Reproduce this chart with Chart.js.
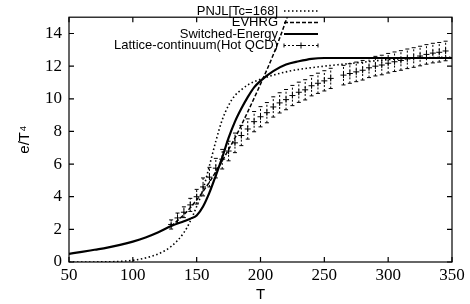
<!DOCTYPE html>
<html>
<head>
<meta charset="utf-8">
<script src="https://cdn.jsdelivr.net/npm/chart.js@4"></script>
<style>
  html, body { margin: 0; padding: 0; background: #fff; }
</style>
</head>
<body>
<canvas id="chart" width="470" height="304"></canvas>
<script>
// PNJL [Tc=168] (dotted)
const pnjlT = [50, 80, 90, 100, 110, 120, 130, 140, 145, 150, 155, 160, 165, 170, 175, 180, 185, 190, 200, 210, 220, 230, 250, 275, 300, 325, 350];
const pnjlE = [0, 0.01, 0.04, 0.1, 0.25, 0.5, 0.95, 1.8, 2.5, 3.4, 4.45, 5.9, 7.4, 8.7, 9.6, 10.2, 10.55, 10.85, 11.2, 11.45, 11.65, 11.8, 12.0, 12.2, 12.4, 12.5, 12.55];

// EVHRG (dashed)
const hrgT = [130, 140, 150, 160, 170, 180, 190, 200, 210, 220, 226];
const hrgE = [2.2, 2.9, 3.8, 4.9, 6.2, 7.6, 9.2, 10.9, 12.7, 14.8, 16.2];

// Switched-Energy (solid)
const swT = [50, 60, 70, 80, 90, 100, 110, 120, 130, 140, 145, 150, 155, 160, 165, 170, 175, 180, 185, 190, 195, 200, 210, 220, 230, 240, 250, 275, 300, 350];
const swE = [0.5, 0.62, 0.75, 0.88, 1.05, 1.25, 1.5, 1.82, 2.2, 2.5, 2.65, 2.85, 3.4, 4.25, 5.3, 6.4, 7.6, 8.6, 9.4, 10.1, 10.7, 11.1, 11.7, 12.1, 12.3, 12.45, 12.5, 12.5, 12.5, 12.5];

// Lattice-continuum (Hot QCD) points with errors
const latT = [130, 135, 140, 145, 150, 155, 160, 165, 170, 175, 180, 185, 190, 195, 200, 205, 210, 215, 220, 225, 230, 235, 240, 245, 250, 255,
              265, 270, 275, 280, 285, 290, 295, 300, 305, 310, 315, 320, 325, 330, 335, 340, 345];
const latE = [2.3, 2.7, 3.05, 3.5, 4.0, 4.6, 5.2, 5.75, 6.3, 6.8, 7.3, 7.75, 8.15, 8.6, 8.9, 9.15, 9.5, 9.75, 9.95, 10.2, 10.4, 10.55, 10.8, 10.95, 11.1, 11.25,
              11.45, 11.55, 11.65, 11.75, 11.9, 12.0, 12.07, 12.18, 12.27, 12.35, 12.45, 12.53, 12.62, 12.72, 12.8, 12.85, 12.93];
const latErr = [0.28, 0.3, 0.33, 0.4, 0.45, 0.55, 0.6, 0.6, 0.6, 0.6, 0.6, 0.62, 0.62, 0.62, 0.62, 0.62, 0.62, 0.62, 0.62, 0.62, 0.62, 0.62, 0.62, 0.62, 0.62, 0.62,
                0.6, 0.6, 0.6, 0.6, 0.6, 0.6, 0.6, 0.6, 0.6, 0.6, 0.6, 0.6, 0.6, 0.6, 0.6, 0.6, 0.6];

const xTicks = [50, 100, 150, 200, 250, 300, 350];
const yTicks = [0, 2, 4, 6, 8, 10, 12, 14];

const toXY = (xs, ys) => xs.map((x, i) => ({x: x, y: ys[i]}));

// gnuplot style box with inward ticks on all four sides
const frameTicks = {
  id: 'frameTicks',
  afterDatasetsDraw(chart) {
    const {ctx, chartArea: a, scales: {x, y}} = chart;
    ctx.save();
    ctx.strokeStyle = '#000';
    ctx.lineWidth = 1.2;
    ctx.setLineDash([]);
    ctx.strokeRect(a.left, a.top, a.right - a.left, a.bottom - a.top);
    const len = 5;
    ctx.beginPath();
    xTicks.forEach(v => {
      const px = x.getPixelForValue(v);
      ctx.moveTo(px, a.bottom); ctx.lineTo(px, a.bottom - len);
      ctx.moveTo(px, a.top); ctx.lineTo(px, a.top + len);
    });
    yTicks.forEach(v => {
      const py = y.getPixelForValue(v);
      ctx.moveTo(a.left, py); ctx.lineTo(a.left + len, py);
      ctx.moveTo(a.right, py); ctx.lineTo(a.right - len, py);
    });
    ctx.stroke();
    ctx.restore();
  }
};

// dashed vertical error bars with small caps
const errorBars = {
  id: 'errorBars',
  beforeDatasetsDraw(chart) {
    const {ctx, chartArea: a, scales: {x, y}} = chart;
    ctx.save();
    ctx.beginPath();
    ctx.rect(a.left, a.top, a.right - a.left, a.bottom - a.top);
    ctx.clip();
    ctx.strokeStyle = '#000';
    ctx.lineWidth = 1;
    latT.forEach((t, i) => {
      const px = x.getPixelForValue(t);
      const hi = y.getPixelForValue(latE[i] + latErr[i]);
      const lo = y.getPixelForValue(latE[i] - latErr[i]);
      ctx.setLineDash([2, 2]);
      ctx.beginPath();
      ctx.moveTo(px, lo); ctx.lineTo(px, hi);
      ctx.stroke();
      ctx.setLineDash([]);
      ctx.beginPath();
      ctx.moveTo(px - 2, lo); ctx.lineTo(px + 2, lo);
      ctx.moveTo(px - 2, hi); ctx.lineTo(px + 2, hi);
      ctx.stroke();
    });
    ctx.restore();
  }
};

// key in the top of the plot, text right aligned, sample on the right
const keyBox = {
  id: 'keyBox',
  afterDraw(chart) {
    const {ctx} = chart;
    const textRight = 278, x0 = 284, x1 = 318;
    const rows = [11, 22.5, 34, 45.5];
    ctx.save();
    ctx.font = '13px "Liberation Sans", Arial, sans-serif';
    ctx.textAlign = 'right';
    ctx.textBaseline = 'middle';
    ctx.fillStyle = '#000';
    chart.data.datasets.forEach((ds, i) => {
      const yy = rows[i];
      ctx.fillText(ds.label, textRight, yy);
      ctx.strokeStyle = '#000';
      if (ds.showLine === false) {
        ctx.lineWidth = 1;
        ctx.setLineDash([2, 2]);
        ctx.beginPath();
        ctx.moveTo(x0, yy); ctx.lineTo(x1, yy);
        ctx.stroke();
        ctx.setLineDash([]);
        ctx.beginPath();
        ctx.moveTo(x0, yy - 2); ctx.lineTo(x0, yy + 2);
        ctx.moveTo(x1, yy - 2); ctx.lineTo(x1, yy + 2);
        ctx.moveTo((x0 + x1) / 2 - 3, yy); ctx.lineTo((x0 + x1) / 2 + 3, yy);
        ctx.moveTo((x0 + x1) / 2, yy - 3); ctx.lineTo((x0 + x1) / 2, yy + 3);
        ctx.stroke();
      } else {
        ctx.lineWidth = ds.borderWidth;
        ctx.setLineDash(ds.borderDash || []);
        ctx.beginPath();
        ctx.moveTo(x0, yy); ctx.lineTo(x1, yy);
        ctx.stroke();
      }
    });
    ctx.restore();
  }
};

const tickFont = {family: '"Liberation Serif", "Times New Roman", serif', size: 17};
const titleFont = {family: '"Liberation Sans", Arial, sans-serif', size: 15};

const config = {
  type: 'line',
  data: {
    datasets: [
      {label: 'PNJL[Tc=168]', data: toXY(pnjlT, pnjlE), borderColor: '#000', borderWidth: 1.6, borderDash: [1.5, 2.5],
       pointRadius: 0, cubicInterpolationMode: 'monotone', fill: false},
      {label: 'EVHRG', data: toXY(hrgT, hrgE), borderColor: '#000', borderWidth: 1.5, borderDash: [4, 2],
       pointRadius: 0, cubicInterpolationMode: 'monotone', fill: false},
      {label: 'Switched-Energy', data: toXY(swT, swE), borderColor: '#000', borderWidth: 2.2,
       pointRadius: 0, cubicInterpolationMode: 'monotone', fill: false},
      {label: 'Lattice-continuum(Hot QCD)', data: toXY(latT, latE), showLine: false, borderColor: '#000', backgroundColor: '#000',
       pointStyle: 'cross', pointRadius: 3, pointBorderWidth: 1}
    ]
  },
  options: {
    responsive: false,
    animation: false,
    layout: {padding: {left: 0, right: 18, top: 1, bottom: 0}},
    plugins: {legend: {display: false}, tooltip: {enabled: false}},
    scales: {
      x: {
        type: 'linear', min: 50, max: 350,
        grid: {display: false, drawTicks: false, tickLength: 0}, border: {display: false},
        ticks: {stepSize: 50, color: '#000', font: tickFont, padding: 3, maxRotation: 0},
        title: {display: true, text: 'T', color: '#000', font: titleFont, padding: {top: 0, bottom: 0}},
        afterFit: s => { s.height = 42; }
      },
      y: {
        type: 'linear', min: 0, max: 15,
        grid: {display: false, drawTicks: false, tickLength: 0}, border: {display: false},
        ticks: {stepSize: 2, color: '#000', font: tickFont, padding: 7},
        afterBuildTicks: s => { s.ticks = yTicks.map(v => ({value: v})); },
        title: {display: true, text: 'e/T\u2074', color: '#000', font: titleFont, padding: {top: 16, bottom: 0}},
        afterFit: s => { s.width = 69; }
      }
    }
  },
  plugins: [errorBars, frameTicks, keyBox]
};

new Chart(document.getElementById('chart').getContext('2d'), config);
</script>
</body>
</html>
